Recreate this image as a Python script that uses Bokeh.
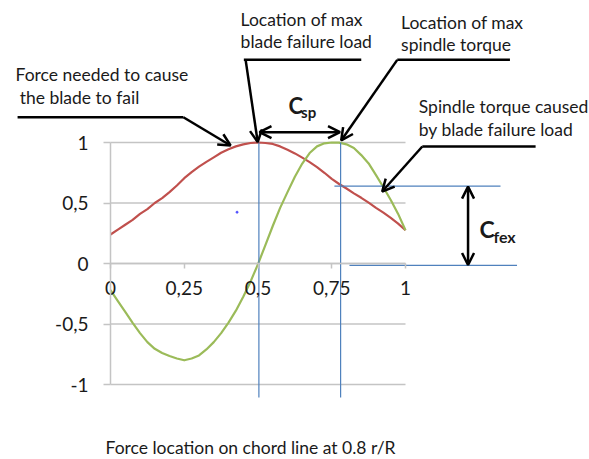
from bokeh.plotting import figure
from bokeh.models import (ColumnDataSource, Arrow, OpenHead, Label, FixedTicker,
                          CustomJSTickFormatter, Range1d)
from bokeh.core.properties import value
from bokeh.embed import file_html
from bokeh.resources import INLINE

# ---------------- data ----------------
x_pos = [0.0, 0.025, 0.05, 0.075, 0.1, 0.125, 0.15, 0.175, 0.2, 0.225,
         0.25, 0.275, 0.3, 0.325, 0.35, 0.375, 0.4, 0.425, 0.45, 0.475,
         0.5, 0.525, 0.55, 0.575, 0.6, 0.625, 0.65, 0.675, 0.7, 0.725,
         0.75, 0.775, 0.8, 0.825, 0.85, 0.875, 0.9, 0.925, 0.95, 0.975, 1.0]
force_failure = [0.24, 0.28, 0.32, 0.36, 0.41, 0.45, 0.50, 0.54, 0.59, 0.645,
                 0.705, 0.755, 0.80, 0.84, 0.877, 0.915, 0.945, 0.968, 0.985, 0.996,
                 1.0, 0.996, 0.988, 0.968, 0.94, 0.91, 0.875, 0.838, 0.797, 0.75,
                 0.70, 0.657, 0.62, 0.58, 0.543, 0.503, 0.46, 0.42, 0.377, 0.33, 0.275]
spindle_torque = [-0.22, -0.31, -0.40, -0.49, -0.575, -0.65, -0.705, -0.74, -0.765, -0.785,
                  -0.80, -0.785, -0.76, -0.71, -0.65, -0.575, -0.488, -0.39, -0.275, -0.148,
                  -0.005, 0.152, 0.31, 0.46, 0.59, 0.717, 0.826, 0.913, 0.968, 0.993,
                  1.0, 0.999, 0.985, 0.955, 0.896, 0.827, 0.73, 0.63, 0.525, 0.41, 0.275]
x_ticks = [0, 0.25, 0.5, 0.75, 1]
y_ticks = [-1, -0.5, 0, 0.5, 1]
y_tick_labels = ["-1", "-0,5", "0", "0,5", "1"]
max_failure_x = 0.503    # location of max blade failure load
max_torque_x = 0.78      # location of max spindle torque
torque_at_failure = 0.64 # spindle torque caused by blade failure load
stray_x = [0.429]
stray_y = [0.424]

FONT = "Lato"
GRID = "#c4c4c4"
BLUE = "#4f81bd"
TXT = "#1a1a1a"

p = figure(width=589, height=459, output_backend="svg", toolbar_location=None,
           x_range=Range1d(-0.3729, 1.6237), y_range=Range1d(-1.6198, 2.1736),
           min_border=0, outline_line_color=None, title=None)
p.xgrid.visible = False
p.ygrid.visible = False
p.background_fill_color = "white"

# gridlines
p.segment(x0=x_ticks[0], x1=x_ticks[-1], y0=y_ticks, y1=y_ticks, line_color=GRID, line_width=1.5)

# axes crossing at zero
for ax in p.xaxis:
    ax.fixed_location = 0
    ax.bounds = (x_ticks[0], x_ticks[-1])
    ax.ticker = FixedTicker(ticks=x_ticks)
    ax.formatter = CustomJSTickFormatter(code="return tick.toString().replace('.', ',')")
    ax.major_tick_out = 5
    ax.major_tick_in = 0
    ax.minor_tick_line_color = None
    ax.major_tick_line_color = GRID
    ax.major_tick_line_width = 1.5
    ax.axis_line_color = GRID
    ax.axis_line_width = 1.5
    ax.major_label_text_font = FONT
    ax.major_label_text_font_size = "19px"
    ax.major_label_text_color = TXT
    ax.major_label_standoff = 12
for ax in p.yaxis:
    ax.fixed_location = 0
    ax.bounds = (y_ticks[0], y_ticks[-1])
    ax.ticker = FixedTicker(ticks=y_ticks)
    ax.formatter = CustomJSTickFormatter(code="return ''")
    ax.major_tick_out = 7
    ax.major_tick_in = 0
    ax.minor_tick_line_color = None
    ax.major_tick_line_color = GRID
    ax.major_tick_line_width = 1.5
    ax.axis_line_color = GRID
    ax.axis_line_width = 1.5

# y tick labels, right-aligned left of the axis
ysrc = ColumnDataSource(dict(y=y_ticks, t=y_tick_labels))
p.text(x=-0.0746, y="y", text="t", source=ysrc, text_font=value(FONT),
       text_font_size="19px", text_color=TXT, text_align="right", text_baseline="middle")

# curves
src = ColumnDataSource(dict(x=x_pos, f=force_failure, t=spindle_torque))
p.line("x", "f", source=src, line_color="#c0504d", line_width=2.2, line_join="round")
p.line("x", "t", source=src, line_color="#9bbb59", line_width=2.2, line_join="round")

# blue marker lines
p.segment(x0=[max_failure_x, max_torque_x], x1=[max_failure_x, max_torque_x],
          y0=[1, 1], y1=[-1.107, -1.107], line_color=BLUE, line_width=1.2)
p.segment(x0=[0.759, 0.81], x1=[1.322, 1.378], y0=[torque_at_failure, -0.016],
          y1=[torque_at_failure, -0.016], line_color=BLUE, line_width=1.2)
p.scatter(stray_x, stray_y, size=2, color="#5050ff")

# callouts: horizontal bars
p.segment(x0=[-0.315, 0.452, 0.972, 1.057], x1=[0.247, 0.85, 1.354, 1.441],
          y0=[1.209, 1.683, 1.683, 0.967], y1=[1.209, 1.683, 1.683, 0.967],
          line_color="black", line_width=2.5)
# callout arrows
arr = ColumnDataSource(dict(xs=[0.247, 0.458, 0.972, 1.057],
                            ys=[1.209, 1.683, 1.683, 0.967],
                            xe=[0.407, 0.499, 0.782, 0.921],
                            ye=[0.975, 1.003, 1.017, 0.595]))
p.add_layout(Arrow(end=OpenHead(size=12, line_width=2.5, line_color="black"),
                   x_start="xs", y_start="ys", x_end="xe", y_end="ye", source=arr,
                   line_width=2.5, line_color="black"))
# double arrows (Csp, Cfex)
p.add_layout(Arrow(start=OpenHead(size=12, line_width=2.5), end=OpenHead(size=12, line_width=2.5),
                   x_start=0.505, y_start=1.085, x_end=0.778, y_end=1.085,
                   line_width=2.5, line_color="black"))
p.add_layout(Arrow(start=OpenHead(size=12, line_width=2.5), end=OpenHead(size=12, line_width=2.5),
                   x_start=1.212, y_start=torque_at_failure - 0.005, x_end=1.212, y_end=-0.012,
                   line_width=2.5, line_color="black"))

def lab(x, y, text, size="17.5px", bold=False):
    p.add_layout(Label(x=x, y=y, text=text, text_font=FONT, text_font_size=size,
                       text_color=TXT, text_baseline="middle", text_align="left",
                       text_font_style="bold" if bold else "normal"))

lab(-0.322, 1.560, "Force needed to cause")
lab(-0.308, 1.368, "the blade  to fail")
lab(0.441, 2.015, "Location of max")
lab(0.441, 1.833, "blade failure load")
lab(0.985, 1.994, "Location of max")
lab(0.985, 1.807, "spindle torque")
lab(1.045, 1.295, "Spindle torque caused")
lab(1.045, 1.107, "by blade failure load")
lab(-0.017, -1.521, "Force location on chord line at 0.8 r/R")
lab(0.603, 1.302, "C", "22px", True)
lab(0.646, 1.254, "sp", "15px", True)
lab(1.251, 0.287, "C", "23px", True)
lab(1.298, 0.226, "fex", "16px", True)

open("out.html", "w").write(file_html(p, INLINE))
